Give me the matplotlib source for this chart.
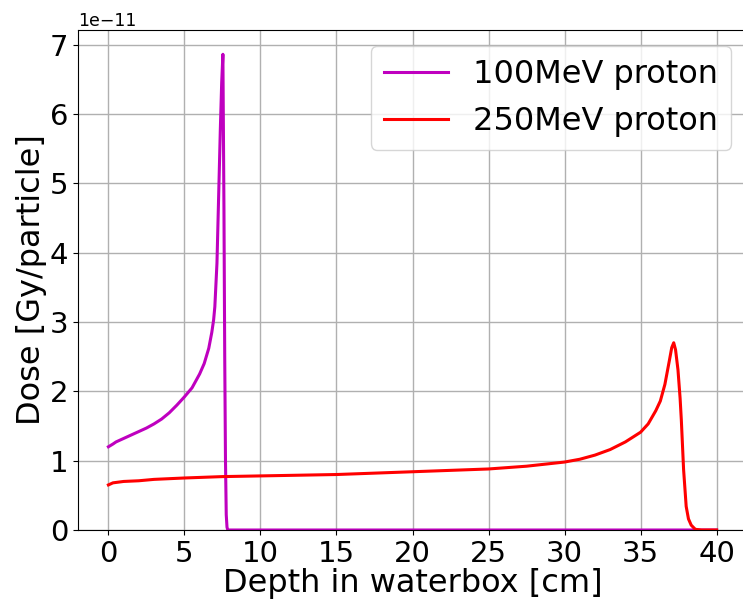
import matplotlib
matplotlib.use("Agg")
import matplotlib.pyplot as plt

# 100 MeV proton depth-dose (Gy/particle, x1e-11)
depth_100 = [0, 0.3, 0.5, 1, 1.5, 2, 2.5, 3, 3.5, 4, 4.5, 5, 5.5, 6, 6.3, 6.6, 6.8, 6.92,
             7.0, 7.14, 7.25, 7.36, 7.45, 7.53, 7.6, 7.65, 7.7, 7.75, 7.8, 7.85, 8.0, 40]
dose_100 = [1.20, 1.24, 1.27, 1.32, 1.37, 1.42, 1.47, 1.53, 1.60, 1.69, 1.80, 1.92, 2.05,
            2.25, 2.40, 2.62, 2.85, 3.03, 3.22, 3.85, 4.81, 5.77, 6.45, 6.86, 4.60, 2.50,
            1.00, 0.22, 0.04, 0.0, 0.0, 0.0]

# 250 MeV proton depth-dose (Gy/particle, x1e-11)
depth_250 = [0, 0.3, 1, 2, 3, 5, 7.5, 10, 12.5, 15, 17.5, 20, 22.5, 25, 27.5, 30, 31, 32,
             33, 34, 35, 35.5, 36, 36.3, 36.6, 36.9, 37.05, 37.18, 37.3, 37.46, 37.6, 37.68,
             37.83, 38.0, 38.15, 38.33, 38.6, 39, 40]
dose_250 = [0.65, 0.68, 0.70, 0.71, 0.73, 0.75, 0.77, 0.78, 0.79, 0.80, 0.82, 0.84, 0.86,
            0.88, 0.92, 0.98, 1.02, 1.08, 1.16, 1.27, 1.41, 1.53, 1.72, 1.86, 2.10, 2.45,
            2.63, 2.70, 2.60, 2.31, 1.90, 1.59, 0.87, 0.34, 0.16, 0.07, 0.01, 0.0, 0.0]

scale = 1e-11
labels = ["100MeV proton", "250MeV proton"]

fig = plt.figure(figsize=(7.43, 6.01), dpi=100)
ax = fig.add_axes([78 / 743, 71 / 601, 669 / 743, 500 / 601])

ax.plot(depth_100, [v * scale for v in dose_100], color="m", lw=2.2, label=labels[0])
ax.plot(depth_250, [v * scale for v in dose_250], color="r", lw=2.2, label=labels[1])

ax.set_xlim(-2, 42)
ax.set_ylim(0, 7.21e-11)
ax.set_xticks([0, 5, 10, 15, 20, 25, 30, 35, 40])
ax.set_yticks([i * 1e-11 for i in range(8)])
ax.grid(True, color="#b0b0b0", lw=1)
ax.set_axisbelow(True)
ax.tick_params(labelsize=21)
ax.yaxis.get_offset_text().set_fontsize(12.5)
ax.set_xlabel("Depth in waterbox [cm]", fontsize=23, labelpad=0)
ax.set_ylabel("Dose [Gy/particle]", fontsize=23, labelpad=2)
ax.legend(loc="upper right", fontsize=23)

fig.savefig("out.png", dpi=100)
